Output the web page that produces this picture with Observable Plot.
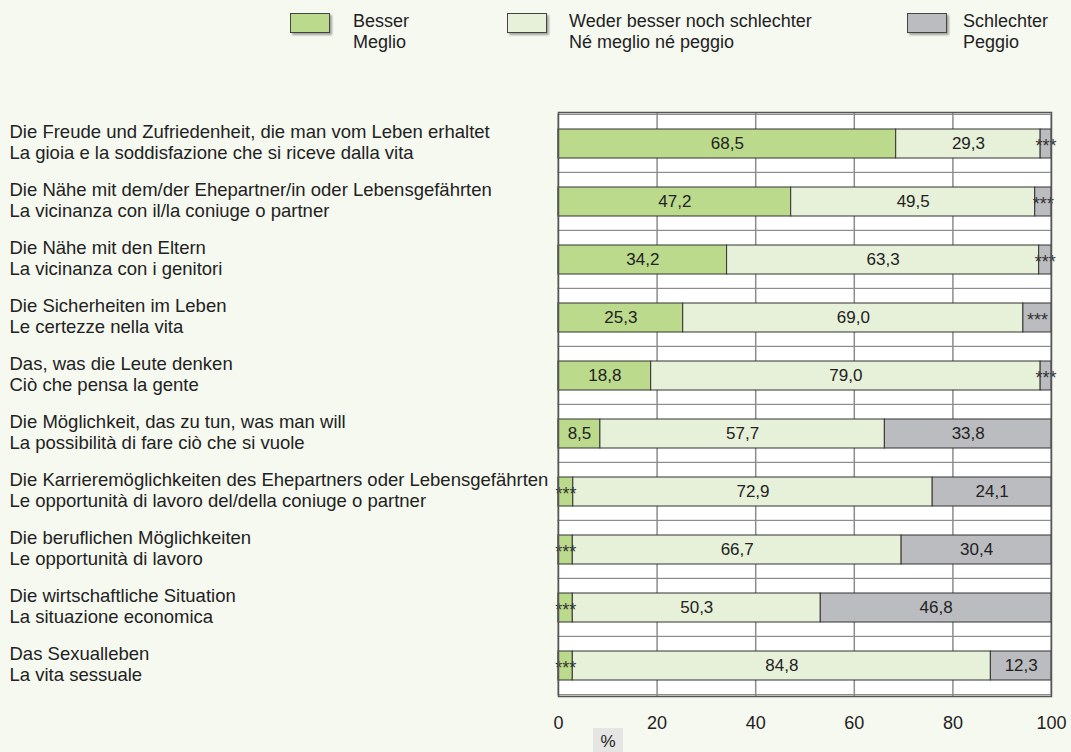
<!DOCTYPE html>
<html><head><meta charset="utf-8">
<script src="https://cdn.jsdelivr.net/npm/d3@7"></script>
<script src="https://cdn.jsdelivr.net/npm/@observablehq/plot@0.6"></script>
<style>
html,body{margin:0;padding:0;background:#f6f9f0;font-family:"Liberation Sans",Arial,Helvetica,sans-serif;}
#wrap{position:relative;width:1071px;height:752px;overflow:hidden;}
#legend{position:relative;height:80px;}
.sw{position:absolute;top:13px;width:40px;height:20px;border:1px solid #444;box-sizing:border-box;box-shadow:2px 2px 2px rgba(0,0,0,0.35);}
.lt{position:absolute;top:11px;font-size:18px;line-height:21px;color:#222;white-space:nowrap;}
#pct{position:absolute;left:593px;top:728px;width:30px;height:24px;background:#e5e6e4;font-size:17px;text-align:center;line-height:28px;color:#222;}
#chart{position:absolute;left:0;top:80px;}
</style></head>
<body>
<div id="wrap">
  <div id="legend"></div>
  <div id="chart"></div>
  <div id="pct">%</div>
</div>
<script>
// ---- data ----
const categoriesDe = [
  "Die Freude und Zufriedenheit, die man vom Leben erhaltet",
  "Die Nähe mit dem/der Ehepartner/in oder Lebensgefährten",
  "Die Nähe mit den Eltern",
  "Die Sicherheiten im Leben",
  "Das, was die Leute denken",
  "Die Möglichkeit, das zu tun, was man will",
  "Die Karrieremöglichkeiten des Ehepartners oder Lebensgefährten",
  "Die beruflichen Möglichkeiten",
  "Die wirtschaftliche Situation",
  "Das Sexualleben"
];
const categoriesIt = [
  "La gioia e la soddisfazione che si riceve dalla vita",
  "La vicinanza con il/la coniuge o partner",
  "La vicinanza con i genitori",
  "Le certezze nella vita",
  "Ciò che pensa la gente",
  "La possibilità di fare ciò che si vuole",
  "Le opportunità di lavoro del/della coniuge o partner",
  "Le opportunità di lavoro",
  "La situazione economica",
  "La vita sessuale"
];
const seriesDe = ["Besser", "Weder besser noch schlechter", "Schlechter"];
const seriesIt = ["Meglio", "Né meglio né peggio", "Peggio"];
const colors = ["#bcda8c", "#e7f1d9", "#bbbcc0"];
const besser     = [68.5, 47.2, 34.2, 25.3, 18.8,  8.5,  3.0,  2.9,  2.9,  2.9];
const weder      = [29.3, 49.5, 63.3, 69.0, 79.0, 57.7, 72.9, 66.7, 50.3, 84.8];
const schlechter = [ 2.2,  3.3,  2.5,  5.7,  2.2, 33.8, 24.1, 30.4, 46.8, 12.3];
const xTicks = [0, 20, 40, 60, 80, 100];
const gridTicks = [20, 40, 60, 80];
const smallLabel = "***";

// ---- build table ----
const seriesValues = [besser, weder, schlechter];
const rows = [];
categoriesDe.forEach((c, i) => {
  seriesDe.forEach((s, j) => rows.push({cat: c, series: s, value: seriesValues[j][i]}));
});
const itMap = new Map(categoriesDe.map((d, i) => [d, categoriesIt[i]]));
const fmt = v => d3.format(".1f")(v).replace(".", ",");
const isSmall = v => v < 6;

// ---- legend ----
const legendPos = [{box: 290, text: 353}, {box: 507, text: 569}, {box: 907, text: 963}];
const legend = document.getElementById("legend");
seriesDe.forEach((s, i) => {
  const b = document.createElement("div");
  b.className = "sw"; b.style.left = legendPos[i].box + "px"; b.style.background = colors[i];
  legend.appendChild(b);
  const t = document.createElement("div");
  t.className = "lt"; t.style.left = legendPos[i].text + "px";
  t.innerHTML = s + "<br>" + seriesIt[i];
  legend.appendChild(t);
});

// ---- chart ----
const plot = Plot.plot({
  width: 1071,
  height: 672,
  marginTop: 32,
  marginBottom: 56,
  marginLeft: 558,
  marginRight: 20,
  style: {background: "transparent", fontFamily: '"Liberation Sans", Arial, Helvetica, sans-serif', fontSize: "18px", color: "#222"},
  x: {domain: [0, 100], label: null},
  y: {domain: categoriesDe, paddingInner: 0.5, paddingOuter: 0.25, label: null},
  color: {domain: seriesDe, range: colors},
  marks: [
    Plot.barX(categoriesDe, {x1: 0, x2: 100, y: d => d, fill: "white", stroke: "#8c8c8c", strokeWidth: 1.2, insetTop: -14.6, insetBottom: -14.6}),
    Plot.gridX(gridTicks, {stroke: "#8c8c8c", strokeOpacity: 1, strokeWidth: 1.5}),
    Plot.barX(rows, {x: "value", y: "cat", fill: "series", stroke: "#333", strokeWidth: 1, order: seriesDe}),
    Plot.text(rows, Plot.stackX({x: "value", y: "cat", z: "series", order: seriesDe,
      text: d => isSmall(d.value) ? null : fmt(d.value), fontSize: 17, fill: "#222"})),
    Plot.text(rows, Plot.stackX({x: "value", y: "cat", z: "series", order: seriesDe,
      text: d => isSmall(d.value) ? smallLabel : null, fontSize: 18, dy: 2, fill: "#333"})),
    Plot.frame({stroke: "#555", strokeWidth: 1.5}),
    Plot.axisX({ticks: xTicks, tickSize: 0, tickPadding: 20, fontSize: 18, label: null}),
    Plot.axisY({tickSize: 0, tickPadding: 549, textAnchor: "start", lineHeight: 1.1, dy: -2, fontSize: 18.5,
      tickFormat: d => d + "\n" + itMap.get(d), label: null})
  ]
});
document.getElementById("chart").appendChild(plot);
</script>
</body></html>
